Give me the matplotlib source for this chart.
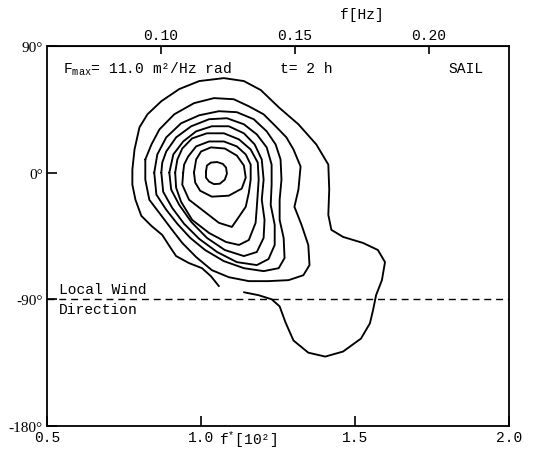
import numpy as np
import matplotlib
matplotlib.use('Agg')
import matplotlib.pyplot as plt

plt.rcParams['font.family'] = ['Liberation Mono', 'DejaVu Sans']
plt.rcParams['mathtext.fontset'] = 'custom'
plt.rcParams['mathtext.rm'] = 'Liberation Mono'
plt.rcParams['mathtext.it'] = 'Liberation Mono'

# contour lines: f* [10^-2] and direction [deg]
ring1_f = [1.058, 1.032, 1.003, 0.961, 0.919, 0.897, 0.874, 0.839, 0.806, 0.787, 0.777, 0.777,
           0.784, 0.800, 0.826, 0.871, 0.929, 0.994, 1.074, 1.139, 1.194, 1.252, 1.316, 1.374,
           1.413, 1.416, 1.413, 1.423, 1.461, 1.526, 1.574, 1.597, 1.587, 1.568, 1.558, 1.548,
           1.519, 1.461, 1.403, 1.348, 1.300, 1.274, 1.255, 1.229, 1.187, 1.139]
ring1_deg = [-80.7, -73.6, -67.9, -64.3, -59.3, -52.1, -44.3, -37.9, -30.7, -19.3, -8.6, 2.1,
             16.4, 32.1, 41.4, 50.7, 59.3, 65.0, 67.1, 65.0, 58.6, 46.4, 34.3, 20.0,
             5.7, -12.1, -30.0, -40.7, -45.7, -50.0, -55.0, -63.6, -76.4, -87.1, -97.9, -107.1,
             -117.9, -127.1, -130.7, -127.9, -119.3, -106.4, -95.0, -90.0, -87.1, -85.0]

ring2_f = [0.819, 0.819, 0.832, 0.874, 0.906, 0.939, 0.984, 1.035, 1.090, 1.155, 1.219, 1.284,
           1.332, 1.352, 1.348, 1.326, 1.303, 1.316, 1.323, 1.300, 1.277, 1.242, 1.203, 1.155,
           1.106, 1.042, 0.977, 0.913, 0.865, 0.839]
ring2_deg = [9.3, -5.0, -19.3, -31.4, -40.7, -50.0, -60.0, -69.3, -74.3, -77.1, -77.1, -76.4,
             -72.9, -65.7, -51.4, -37.1, -24.3, -12.1, 4.3, 16.4, 25.0, 32.9, 41.4, 47.1,
             52.1, 52.9, 49.3, 41.4, 30.7, 20.0]

ring3_f = [0.848, 0.855, 0.887, 0.923, 0.965, 1.013, 1.074, 1.139, 1.203, 1.252, 1.271, 1.268,
           1.255, 1.255, 1.261, 1.258, 1.242, 1.213, 1.171, 1.116, 1.058, 0.994, 0.935, 0.887, 0.858]
ring3_deg = [0.0, -15.7, -26.4, -36.4, -46.4, -55.0, -62.9, -67.9, -70.0, -67.9, -60.7, -46.4,
             -33.6, -19.3, -5.0, 9.3, 20.0, 29.3, 37.9, 42.9, 43.6, 40.7, 35.0, 25.0, 12.9]

ring4_f = [0.871, 0.877, 0.906, 0.945, 0.994, 1.052, 1.116, 1.181, 1.219, 1.239, 1.239, 1.226,
           1.229, 1.229, 1.213, 1.181, 1.139, 1.084, 1.026, 0.968, 0.919, 0.887, 0.874]
ring4_deg = [0.0, -13.6, -25.0, -36.4, -47.1, -56.4, -63.6, -65.7, -61.4, -51.4, -37.1, -22.9,
             -8.6, 5.7, 17.9, 27.1, 34.3, 38.6, 37.9, 32.9, 25.0, 15.0, 7.1]

ring5_f = [0.897, 0.903, 0.929, 0.968, 1.019, 1.077, 1.139, 1.181, 1.203, 1.206, 1.197, 1.203,
           1.197, 1.174, 1.139, 1.090, 1.035, 0.984, 0.942, 0.910]
ring5_deg = [0.0, -12.1, -22.9, -35.0, -46.4, -55.0, -59.3, -56.4, -46.4, -33.6, -19.3, -5.0,
             9.3, 20.0, 27.9, 32.9, 32.9, 29.3, 22.1, 12.9]

ring6_f = [0.916, 0.919, 0.935, 0.971, 1.026, 1.081, 1.123, 1.155, 1.177, 1.181, 1.187, 1.184,
           1.161, 1.123, 1.074, 1.019, 0.971, 0.939, 0.923]
ring6_deg = [0.0, -10.7, -20.7, -33.6, -42.9, -49.3, -51.4, -47.9, -35.7, -24.3, -5.0, 7.1,
             16.4, 23.6, 27.9, 27.9, 24.3, 17.1, 9.3]

ring7_f = [0.942, 0.939, 0.961, 1.016, 1.058, 1.100, 1.116, 1.145, 1.155, 1.161, 1.161, 1.145,
           1.116, 1.074, 1.026, 0.984, 0.958, 0.945]
ring7_deg = [0.0, -8.6, -19.3, -28.6, -35.7, -38.6, -33.6, -24.3, -14.3, -5.0, 5.7, 12.9,
             18.6, 22.1, 22.1, 18.6, 11.4, 5.7]

ring8_f = [0.977, 0.981, 0.997, 1.035, 1.090, 1.132, 1.145, 1.139, 1.116, 1.077, 1.032, 1.000, 0.984]
ring8_deg = [0.0, -7.1, -12.9, -17.1, -16.4, -11.4, -3.6, 5.0, 12.1, 17.1, 17.9, 15.0, 9.3]

ring9_f = [1.016, 1.019, 1.032, 1.052, 1.071, 1.081, 1.084, 1.077, 1.061, 1.042, 1.026, 1.016]
ring9_deg = [0.7, 5.0, 7.1, 7.5, 6.1, 3.6, -0.7, -5.0, -7.9, -8.2, -6.4, -3.6]

fstar_ticks = [0.5, 1.0, 1.5, 2.0]
fstar_labels = ['0.5', '1.0', '1.5', '2.0']
deg_ticks = [90, 0, -90, -180]
deg_labels = ['90°', '0°', '-90°', '-180°']
fhz_ticks = [0.10, 0.15, 0.20]
fhz_labels = ['0.10', '0.15', '0.20']
hz_to_fstar = 8.7
wind_dir = -90

fig = plt.figure(figsize=(5.38, 4.52), dpi=100)
ax = fig.add_axes([0.0874, 0.0553, 0.859, 0.841])
ax.set_xlim(0.5, 2.0)
ax.set_ylim(-180, 90)

line_kw = dict(color='black', lw=1.35, solid_joinstyle='round', solid_capstyle='round')
# open outer contour, closed inner contours
ax.plot(ring1_f, ring1_deg, **line_kw)
for rf, rd in [(ring2_f, ring2_deg), (ring3_f, ring3_deg), (ring4_f, ring4_deg),
               (ring5_f, ring5_deg), (ring6_f, ring6_deg), (ring7_f, ring7_deg),
               (ring8_f, ring8_deg), (ring9_f, ring9_deg)]:
    ax.plot(rf + rf[:1], rd + rd[:1], **line_kw)

ax.axhline(wind_dir, color='black', lw=1.0, dashes=(5, 3.5))

ax.set_xticks(fstar_ticks)
ax.set_xticklabels(fstar_labels, fontsize=10.5)
ax.set_yticks(deg_ticks)
ax.set_yticklabels(deg_labels, fontsize=11, family='Liberation Serif')
ax.tick_params(axis='x', direction='in', length=7, width=1.2, pad=3)
ax.tick_params(axis='y', direction='in', length=7, width=1.2, pad=3)
for s in ax.spines.values():
    s.set_linewidth(1.3)

top = ax.secondary_xaxis('top', functions=(lambda x: x / hz_to_fstar, lambda x: x * hz_to_fstar))
top.set_xticks(fhz_ticks)
top.set_xticklabels(fhz_labels, fontsize=10.5)
top.tick_params(direction='in', length=6, width=1.2, pad=3)

ax.text(0.435, -0.032, r'f$^{*}$[10²]', transform=ax.transAxes, ha='center', va='center', fontsize=10.5)
fig.text(0.673, 0.967, 'f[Hz]', ha='center', va='center', fontsize=10.5)

ax.text(0.035, 0.942, r'F$_{\rm max}$= 11.0 m²/Hz rad', transform=ax.transAxes,
        ha='left', va='center', fontsize=10.5)
ax.text(0.504, 0.942, 't= 2 h', transform=ax.transAxes, ha='left', va='center', fontsize=10.5)
ax.text(0.944, 0.942, 'SAIL', transform=ax.transAxes, ha='right', va='center', fontsize=10.5)

ax.text(0.539, wind_dir + 2, 'Local Wind', ha='left', va='bottom', fontsize=10.5)
ax.text(0.539, wind_dir - 2, 'Direction', ha='left', va='top', fontsize=10.5)

fig.savefig('out.png', dpi=100)
